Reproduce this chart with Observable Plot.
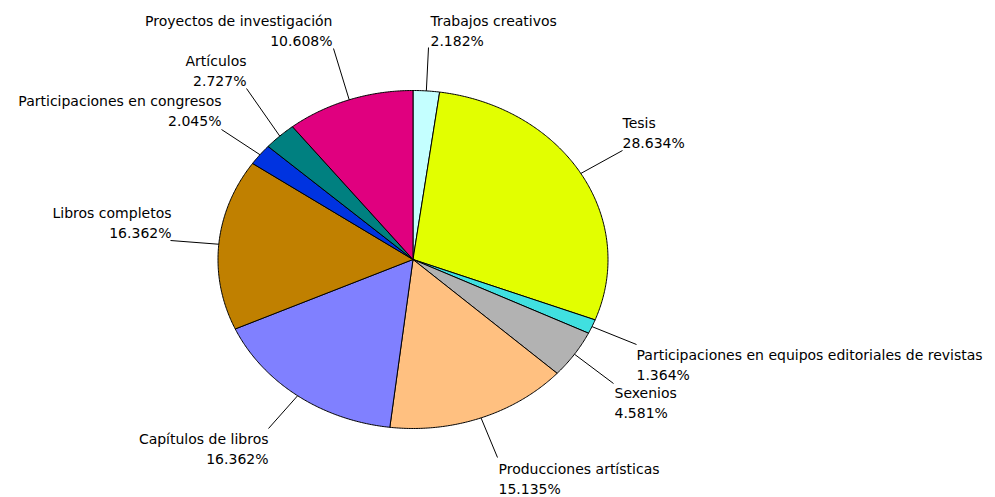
<!DOCTYPE html>
<html>
<head>
<meta charset="utf-8">
<script src="https://cdn.jsdelivr.net/npm/d3@7"></script>
<script src="https://cdn.jsdelivr.net/npm/@observablehq/plot@0.6"></script>
<style>
  html, body { margin: 0; padding: 0; background: #fff; }
</style>
</head>
<body>
<div id="chart"></div>
<script>
// ---- data ----
const categories = [
  "Trabajos creativos",
  "Tesis",
  "Participaciones en equipos editoriales de revistas",
  "Sexenios",
  "Producciones artísticas",
  "Capítulos de libros",
  "Libros completos",
  "Participaciones en congresos",
  "Artículos",
  "Proyectos de investigación"
];
const percentages = [2.182, 28.634, 1.364, 4.581, 15.135, 16.362, 16.362, 2.045, 2.727, 10.608];
const percentLabels = ["2.182%", "28.634%", "1.364%", "4.581%", "15.135%", "16.362%", "16.362%", "2.045%", "2.727%", "10.608%"];

// ---- style ----
const colors = ["#C4FFFF", "#E2FF00", "#40E0E0", "#B2B2B2", "#FFC080", "#8080FF", "#C08000", "#0033E0", "#008080", "#E0007F"];

// ---- layout (pixels) ----
const W = 995, H = 497;
const cx = 412.5, cy = 259, rx = 195, ry = 169;
// label anchor: [x, baseline of first line, textAnchor], leader start [x, y]
const labelLayout = [
  [430, 25, "start", 428, 47],
  [622, 127, "start", 622, 150],
  [636, 359, "start", 636, 344],
  [614, 397, "start", 613, 383],
  [498, 473, "start", 497, 457],
  [268, 443, "end", 268, 428],
  [171, 217, "end", 170, 240],
  [221, 105, "end", 221, 129],
  [246, 65, "end", 246, 88],
  [332, 25, "end", 333, 48]
];
const ux = px => (px - cx) / rx;
const uy = py => (cy - py) / ry;

// ---- geometry from data ----
const total = d3.sum(percentages);
let acc = 0;
const slices = categories.map((name, i) => {
  const a0 = acc / total * 2 * Math.PI;
  acc += percentages[i];
  const a1 = acc / total * 2 * Math.PI;
  const pts = [{x: 0, y: 0}];
  const n = Math.max(2, Math.ceil((a1 - a0) / (Math.PI / 360)));
  for (let k = 0; k <= n; k++) {
    const a = a0 + (a1 - a0) * k / n;
    pts.push({x: Math.sin(a), y: Math.cos(a)});
  }
  pts.push({x: 0, y: 0});
  const mid = (a0 + a1) / 2;
  const L = labelLayout[i];
  return {
    name, pct: percentLabels[i], color: colors[i], pts,
    ex: Math.sin(mid), ey: Math.cos(mid),
    lx: ux(L[0]), ly: uy(L[1]), anchor: L[2],
    sx: ux(L[3]), sy: uy(L[4])
  };
});

const font = "'DejaVu Sans', sans-serif";
const FS = 14;
const textOpts = anchor => ({
  x: "lx", y: "ly", text: d => d.name + "\n" + d.pct,
  textAnchor: anchor, lineAnchor: "bottom", lineHeight: 20 / FS,
  dy: 20,
  fontSize: FS, fontFamily: font, fill: "#000"
});

const chart = Plot.plot({
  width: W, height: H, margin: 0,
  style: {background: "#fff", fontFamily: font},
  x: {domain: [ux(0), ux(W)], range: [0, W], axis: null},
  y: {domain: [uy(H), uy(0)], range: [H, 0], axis: null},
  marks: [
    ...slices.map(s => Plot.line(s.pts, {x: "x", y: "y", fill: s.color, stroke: "#000", strokeWidth: 1, strokeLinejoin: "round", curve: "linear"})),
    Plot.link(slices, {x1: "sx", y1: "sy", x2: "ex", y2: "ey", stroke: "#000", strokeWidth: 1}),
    Plot.text(slices.filter(s => s.anchor === "start"), textOpts("start")),
    Plot.text(slices.filter(s => s.anchor === "end"), textOpts("end"))
  ]
});
document.getElementById("chart").appendChild(chart);
</script>
</body>
</html>
